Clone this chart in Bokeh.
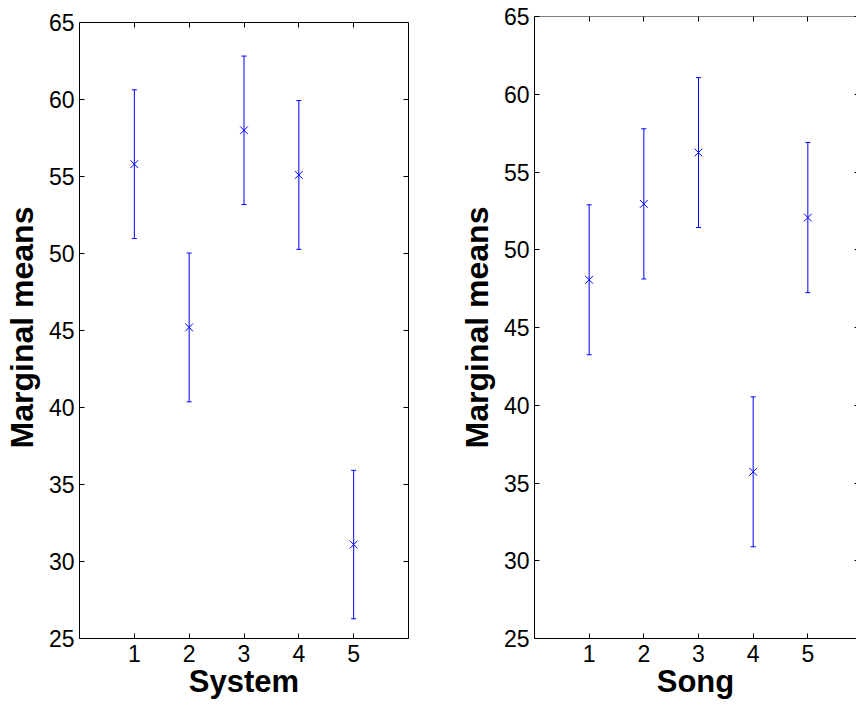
from bokeh.plotting import figure
from bokeh.layouts import row
from bokeh.models import (LinearAxis, FixedTicker, Range1d, ColumnDataSource,
                          Whisker, TeeHead)
from bokeh.embed import file_html
from bokeh.resources import INLINE

# ---- data ----
systems = [1, 2, 3, 4, 5]
system_means = [55.8, 45.2, 58.0, 55.1, 31.1]
system_err = [4.83, 4.83, 4.82, 4.83, 4.82]

songs = [1, 2, 3, 4, 5]
song_means = [48.07, 52.95, 56.25, 35.72, 52.07]
song_err = [4.82, 4.83, 4.82, 4.82, 4.83]

y_ticks = [25, 30, 35, 40, 45, 50, 55, 60, 65]
x_ticks = [1, 2, 3, 4, 5]

FONT = "Liberation Sans"
BLUE = "#0000ff"
Y_LO, Y_HI = 25, 65


def style_axis(ax, ticks, show_labels=True, line=True):
    ax.ticker = FixedTicker(ticks=ticks)
    ax.major_tick_in = 5
    ax.major_tick_out = 0
    ax.minor_tick_line_color = None
    ax.major_tick_line_color = "#000000"
    ax.axis_line_color = "#000000" if line else None
    ax.axis_line_width = 1
    if show_labels:
        ax.major_label_text_font = FONT
        ax.major_label_text_font_size = "23px"
        ax.major_label_text_color = "#000000"
    else:
        ax.major_label_text_color = None
        ax.major_label_text_font_size = "1px"
        ax.major_label_standoff = 0


def panel(xs, means, errs, xlabel, fw, bl, br, x_end, y_end, right_line):
    p = figure(frame_width=fw, frame_height=622, x_range=Range1d(0, x_end),
               y_range=Range1d(Y_LO, y_end), output_backend="svg",
               toolbar_location=None, min_border_left=bl,
               min_border_right=br, min_border_top=16, min_border_bottom=62)
    p.outline_line_color = None
    p.xgrid.grid_line_color = None
    p.ygrid.grid_line_color = None
    p.background_fill_color = "white"
    p.border_fill_color = "white"

    xa = p.xaxis[0]
    style_axis(xa, x_ticks)
    xa.major_label_standoff = 6
    xa.axis_label = xlabel
    xa.axis_label_text_font = FONT
    xa.axis_label_text_font_style = "bold"
    xa.axis_label_text_font_size = "31px"
    xa.axis_label_text_color = "#000000"
    xa.axis_label_standoff = -1

    ya = p.yaxis[0]
    style_axis(ya, y_ticks)
    ya.bounds = (Y_LO, Y_HI)
    ya.major_label_standoff = 5
    ya.axis_label = "Marginal means"
    ya.axis_label_text_font = FONT
    ya.axis_label_text_font_style = "bold"
    ya.axis_label_text_font_size = "32px"
    ya.axis_label_text_color = "#000000"
    ya.axis_label_standoff = 6

    top = LinearAxis(fixed_location=Y_HI)
    style_axis(top, x_ticks, show_labels=False)
    p.add_layout(top, "above")
    right = LinearAxis()
    style_axis(right, y_ticks, show_labels=False, line=right_line)
    right.bounds = (Y_LO, Y_HI)
    if not right_line:
        right.major_tick_in = 2
    p.add_layout(right, "right")

    lower = [m - e for m, e in zip(means, errs)]
    upper = [m + e for m, e in zip(means, errs)]
    src = ColumnDataSource(dict(x=xs, y=means, lower=lower, upper=upper))
    w = Whisker(base="x", lower="lower", upper="upper", source=src,
                line_color=BLUE, line_width=1,
                lower_head=TeeHead(size=5, line_color=BLUE, line_width=1),
                upper_head=TeeHead(size=5, line_color=BLUE, line_width=1))
    p.add_layout(w)
    p.scatter("x", "y", source=src, marker="x", size=11,
              line_color=BLUE, line_width=1)
    return p


# left panel: 25..65 spans 616px inside a 622px frame (top 6px above 65)
p1 = panel(systems, system_means, system_err, "System",
           fw=329, bl=71, br=12, x_end=6, y_end=Y_LO + 622 / 15.4,
           right_line=True)
p2 = panel(songs, song_means, song_err, "Song",
           fw=322, bl=114, br=0, x_end=5.89, y_end=Y_HI,
           right_line=False)

layout = row(p1, p2)
open("out.html", "w").write(file_html(layout, INLINE))
